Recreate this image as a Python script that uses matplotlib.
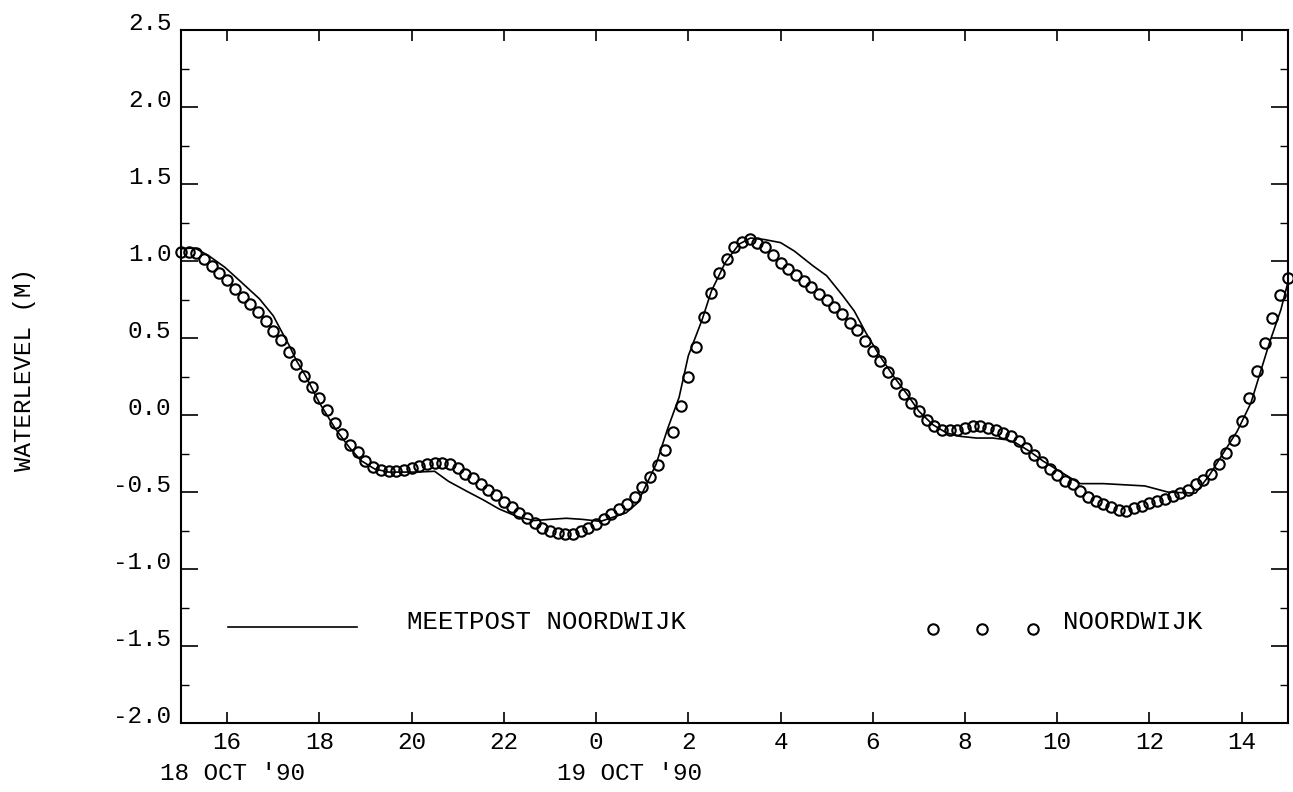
import matplotlib
matplotlib.use('Agg')
import matplotlib.pyplot as plt
import matplotlib.transforms as mtransforms
import numpy as np

plt.rcParams['font.family'] = ['Liberation Mono', 'DejaVu Sans Mono']

# time axis in hours since 18 Oct 00:00, observations every 10 minutes
obs_hours = np.arange(15.0, 39.0 + 1e-6, 1.0 / 6.0)
obs_level = [
    1.06, 1.06, 1.05, 1.015, 0.97, 0.925, 0.875, 0.82, 0.77, 0.72,
    0.67, 0.61, 0.545, 0.485, 0.41, 0.33, 0.255, 0.18, 0.11, 0.03,
    -0.05, -0.12, -0.195, -0.24, -0.295, -0.335, -0.355, -0.365, -0.36, -0.355,
    -0.345, -0.33, -0.32, -0.31, -0.31, -0.32, -0.345, -0.38, -0.41, -0.445,
    -0.485, -0.52, -0.565, -0.6, -0.635, -0.67, -0.7, -0.73, -0.755, -0.765,
    -0.77, -0.77, -0.755, -0.73, -0.705, -0.675, -0.645, -0.61, -0.58, -0.535,
    -0.47, -0.405, -0.325, -0.225, -0.11, 0.06, 0.25, 0.44, 0.635, 0.79,
    0.92, 1.015, 1.09, 1.125, 1.145, 1.12, 1.09, 1.04, 0.99, 0.95,
    0.91, 0.87, 0.83, 0.785, 0.75, 0.70, 0.655, 0.60, 0.555, 0.48,
    0.415, 0.35, 0.28, 0.21, 0.135, 0.08, 0.025, -0.03, -0.07, -0.095,
    -0.10, -0.10, -0.085, -0.07, -0.07, -0.085, -0.10, -0.115, -0.135, -0.17,
    -0.215, -0.26, -0.305, -0.35, -0.39, -0.425, -0.45, -0.495, -0.53, -0.56,
    -0.58, -0.60, -0.615, -0.62, -0.605, -0.59, -0.57, -0.56, -0.545, -0.525,
    -0.505, -0.485, -0.45, -0.42, -0.38, -0.315, -0.245, -0.16, -0.04, 0.11,
    0.285, 0.47, 0.63, 0.78, 0.89,
]

model_hours = [
    15.0, 15.3, 15.6, 15.95, 16.3, 16.7, 17.0, 17.15, 17.35, 17.5,
    17.7, 18.0, 18.35, 18.65, 18.9, 19.2, 19.5, 20.1, 20.5, 20.8,
    21.2, 21.55, 21.9, 22.3, 22.65, 23.0, 23.35, 23.7, 24.1, 24.65,
    24.9, 25.3, 25.55, 25.8, 26.0, 26.3, 26.5, 26.8, 27.1, 27.35,
    27.65, 28.0, 28.3, 28.7, 29.0, 29.35, 29.6, 29.85, 30.15, 30.45,
    30.75, 31.0, 31.3, 31.6, 31.9, 32.25, 32.6, 32.9, 33.1, 33.4,
    33.7, 34.0, 34.3, 34.5, 35.0, 35.9, 36.4, 37.0, 37.3, 37.6,
    37.9, 38.2, 38.4, 38.6, 38.85, 39.0,
]
model_level = [
    1.08, 1.085, 1.035, 0.96, 0.865, 0.755, 0.645, 0.56, 0.45, 0.355,
    0.255, 0.08, -0.09, -0.21, -0.295, -0.35, -0.37, -0.37, -0.365, -0.43,
    -0.495, -0.55, -0.61, -0.66, -0.685, -0.677, -0.67, -0.677, -0.69, -0.635,
    -0.57, -0.32, -0.09, 0.115, 0.385, 0.62, 0.805, 0.99, 1.11, 1.15,
    1.14, 1.12, 1.065, 0.97, 0.905, 0.775, 0.675, 0.535, 0.385, 0.252,
    0.133, 0.025, -0.062, -0.116, -0.138, -0.149, -0.149, -0.16, -0.18, -0.235,
    -0.30, -0.355, -0.41, -0.445, -0.445, -0.46, -0.50, -0.507, -0.39, -0.247,
    -0.106, 0.079, 0.274, 0.468, 0.685, 0.86,
]

xtick_pos = [16, 18, 20, 22, 24, 26, 28, 30, 32, 34, 36, 38]
xtick_labels = ['16', '18', '20', '22', '0', '2', '4', '6', '8', '10', '12', '14']
ytick_pos = [-2.0, -1.5, -1.0, -0.5, 0.0, 0.5, 1.0, 1.5, 2.0, 2.5]
date_labels = ["18 OCT '90", "19 OCT '90"]
date_pos = [14.54, 23.15]
model_name = 'MEETPOST NOORDWIJK'
obs_name = 'NOORDWIJK'

fig = plt.figure(figsize=(12.93, 7.92), dpi=100)
ax = fig.add_axes([0.140, 0.087, 0.856, 0.875])

ax.plot(model_hours, model_level, color='black', lw=1.2)
ax.plot(obs_hours, obs_level, 'o', ms=7.5, mfc='none', mec='black', mew=1.5,
        clip_on=False)

ax.set_xlim(15, 39)
ax.set_ylim(-2.0, 2.5)
ax.set_xticks(xtick_pos)
ax.set_xticklabels(xtick_labels)
ax.set_yticks(ytick_pos)
ax.set_yticklabels(['%.1f' % v for v in ytick_pos])
ax.set_yticks(np.arange(-2.0, 2.51, 0.25), minor=True)

ax.tick_params(axis='x', which='major', direction='in', top=True, length=8,
               width=1.2, pad=6, labelsize=17.5)
ax.tick_params(axis='y', which='major', direction='in', right=True, length=12,
               width=1.2, pad=7, labelsize=17.5)
ax.tick_params(axis='y', which='minor', direction='in', right=True, length=6,
               width=1.0)
for lab in ax.get_yticklabels():
    lab.set_va('baseline')
for sp in ax.spines.values():
    sp.set_linewidth(1.5)

trans = mtransforms.blended_transform_factory(ax.transData, ax.transAxes)
for pos, lab in zip(date_pos, date_labels):
    ax.text(pos, -0.073, lab, transform=trans, ha='left', va='center',
            fontsize=17.5, clip_on=False)

fig.text(0.0193, 0.533, 'WATERLEVEL (M)', rotation=90, ha='center',
         va='center', fontsize=17.5)

# legend drawn inside the axes like the original
ax.plot([0.042, 0.159], [0.139, 0.139], transform=ax.transAxes, color='black',
        lw=1.2)
ax.text(0.204, 0.146, model_name, transform=ax.transAxes, va='center',
        fontsize=18.5)
ax.plot([0.679, 0.724, 0.770], [0.136, 0.136, 0.136], 'o', transform=ax.transAxes,
        ms=7.5, mfc='none', mec='black', mew=1.5)
ax.text(0.797, 0.146, obs_name, transform=ax.transAxes, va='center',
        fontsize=18.5)

fig.savefig('out.png', dpi=100)
